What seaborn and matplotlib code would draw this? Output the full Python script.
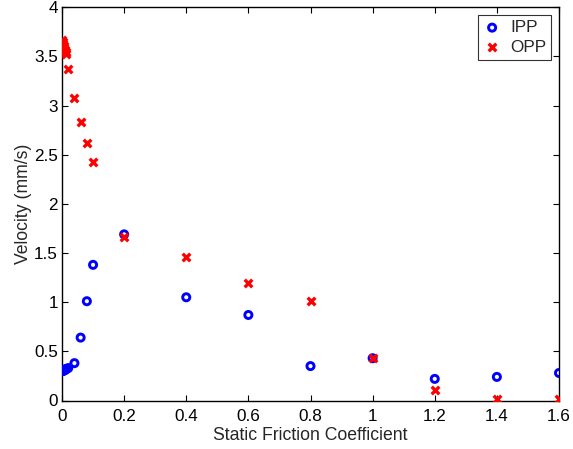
import matplotlib
matplotlib.use("Agg")
import matplotlib.pyplot as plt
import seaborn as sns
import pandas as pd

# Data
ipp_x = [0.0, 0.002, 0.004, 0.006, 0.008, 0.01, 0.012, 0.014, 0.02, 0.04, 0.06, 0.08, 0.1,
         0.2, 0.4, 0.6, 0.8, 1.0, 1.2, 1.4, 1.6]
ipp_y = [0.30, 0.30, 0.30, 0.31, 0.31, 0.31, 0.32, 0.32, 0.33, 0.38, 0.64, 1.01, 1.38,
         1.69, 1.05, 0.87, 0.35, 0.43, 0.22, 0.24, 0.28]
opp_x = [0.0, 0.002, 0.004, 0.006, 0.008, 0.01, 0.012, 0.014, 0.02, 0.04, 0.06, 0.08, 0.1,
         0.2, 0.4, 0.6, 0.8, 1.0, 1.2, 1.4, 1.6]
opp_y = [3.67, 3.65, 3.63, 3.61, 3.59, 3.57, 3.55, 3.53, 3.37, 3.08, 2.83, 2.62, 2.43,
         1.66, 1.46, 1.20, 1.01, 0.43, 0.11, 0.02, 0.02]
xticks = [0, 0.2, 0.4, 0.6, 0.8, 1.0, 1.2, 1.4, 1.6]
xtick_labels = ["0", "0.2", "0.4", "0.6", "0.8", "1", "1.2", "1.4", "1.6"]
yticks = [0, 0.5, 1, 1.5, 2, 2.5, 3, 3.5, 4]
ytick_labels = ["0", "0.5", "1", "1.5", "2", "2.5", "3", "3.5", "4"]

sns.set_style("ticks")
plt.rcParams["font.family"] = ["Liberation Sans", "DejaVu Sans"]
plt.rcParams["font.size"] = 12

fig = plt.figure(figsize=(5.73, 4.49), dpi=100)
ax = fig.add_axes([62 / 573, 1 - 400.5 / 449, (559 - 62) / 573, (400.5 - 7.3) / 449])

df_ipp = pd.DataFrame({"x": ipp_x, "y": ipp_y})
df_opp = pd.DataFrame({"x": opp_x, "y": opp_y})

sns.scatterplot(data=df_ipp, x="x", y="y", ax=ax, marker="o", s=26,
                facecolor="none", edgecolor="#0000ff", linewidth=2.1, label="IPP", zorder=3)
sns.scatterplot(data=df_opp, x="x", y="y", ax=ax, marker="x", s=30,
                color="#ff0000", linewidth=2.4, label="OPP", zorder=4)

ax.set_xlim(0, 1.6)
ax.set_ylim(0, 4)
ax.set_xticks(xticks)
ax.set_xticklabels(xtick_labels)
ax.set_yticks(yticks)
ax.set_yticklabels(ytick_labels)

ax.tick_params(direction="in", length=4, width=0.8, top=True, right=True,
               labelsize=12.3, colors="black", pad=3)
ax.tick_params(axis="x", pad=6)
ax.set_xlabel("Static Friction Coefficient", fontsize=12.7, labelpad=2)
ax.set_ylabel("Velocity (mm/s)", fontsize=12.7, labelpad=1.5)
for sp in ax.spines.values():
    sp.set_visible(True)
    sp.set_color("black")
    sp.set_linewidth(1.0)

leg = ax.legend(loc="upper right", frameon=True, fancybox=False, fontsize=12.3,
                borderpad=0.3, handletextpad=0.5, handlelength=1.1,
                borderaxespad=0.45, labelspacing=0.28)
leg.get_frame().set_edgecolor("black")
leg.get_frame().set_linewidth(0.8)

fig.savefig("out.png", dpi=100)
